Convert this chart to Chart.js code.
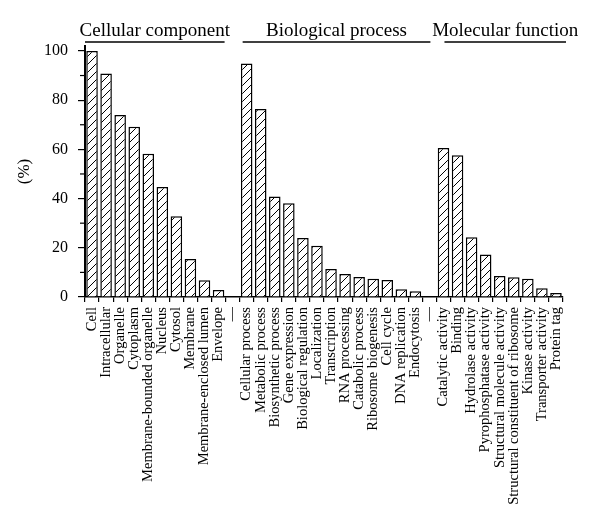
<!DOCTYPE html>
<html>
<head>
<meta charset="utf-8">
<script src="https://cdn.jsdelivr.net/npm/chart.js@4/dist/chart.umd.min.js"></script>
<style>
  html, body { margin: 0; padding: 0; background: #fff; }
</style>
</head>
<body>
<canvas id="barChart" width="600" height="525"></canvas>
<script>
var groupTitles = ['Cellular component', 'Biological process', 'Molecular function'];

var cellularLabels = ['Cell', 'Intracellular', 'Organelle', 'Cytoplasm', 'Membrane-bounded organelle',
  'Nucleus', 'Cytosol', 'Membrane', 'Membrane-enclosed lumen', 'Envelope'];
var cellularValues = [100, 90.8, 74, 69.2, 58.2, 44.7, 32.8, 15.4, 6.8, 2.8];

var biologicalLabels = ['Cellular process', 'Metabolic process', 'Biosynthetic process', 'Gene expression',
  'Biological regulation', 'Localization', 'Transcription', 'RNA processing', 'Catabolic process',
  'Ribosome biogenesis', 'Cell cycle', 'DNA replication', 'Endocytosis'];
var biologicalValues = [94.9, 76.4, 40.8, 38.1, 24, 20.8, 11.4, 9.3, 8.1, 7.4, 6.9, 3.1, 2.3];

var molecularLabels = ['Catalytic activity', 'Binding', 'Hydrolase activity', 'Pyrophosphatase activity',
  'Structural molecule activity', 'Structural constituent of ribosome', 'Kinase activity',
  'Transporter activity', 'Protein tag'];
var molecularValues = [60.5, 57.6, 24.3, 17.3, 8.5, 8, 7.4, 3.6, 1.6];

var yTicks = [0, 20, 40, 60, 80, 100];
var yMinorTicks = [10, 30, 50, 70, 90];

// join the three groups with an empty "—" slot between them
var labels = cellularLabels.concat(['—'], biologicalLabels, ['—'], molecularLabels);
var values = cellularValues.concat([null], biologicalValues, [null], molecularValues);

// where each group sits in the category list
var groups = [
  { title: groupTitles[0], from: 0, to: cellularLabels.length - 1, padL: 0, padR: -1 },
  { title: groupTitles[1], from: cellularLabels.length + 1,
    to: cellularLabels.length + biologicalLabels.length, padL: 3, padR: 8 },
  { title: groupTitles[2], from: cellularLabels.length + biologicalLabels.length + 2,
    to: labels.length - 1, padL: 8, padR: 3 }
];

var FONT = "'Liberation Serif', 'DejaVu Serif', serif";

function makeHatch() {
  var s = 8;
  var c = document.createElement('canvas');
  c.width = s; c.height = s;
  var g = c.getContext('2d');
  g.fillStyle = '#fff';
  g.fillRect(0, 0, s, s);
  g.strokeStyle = '#000';
  g.lineWidth = 1;
  g.beginPath();
  g.moveTo(0, s); g.lineTo(s, 0);
  g.moveTo(-1, 1); g.lineTo(1, -1);
  g.moveTo(s - 1, s + 1); g.lineTo(s + 1, s - 1);
  g.stroke();
  return g.createPattern(c, 'repeat');
}

var headerPlugin = {
  id: 'groupHeaders',
  afterDraw: function (chart) {
    var ctx = chart.ctx;
    var x = chart.scales.x;
    var half = (x.getPixelForValue(1) - x.getPixelForValue(0)) / 2;
    ctx.save();
    groups.forEach(function (gr) {
      var l = x.getPixelForValue(gr.from) - half + gr.padL;
      var r = x.getPixelForValue(gr.to) + half + gr.padR;
      ctx.strokeStyle = '#000';
      ctx.lineWidth = 1.5;
      ctx.beginPath();
      ctx.moveTo(l, 42);
      ctx.lineTo(r, 42);
      ctx.stroke();
      ctx.fillStyle = '#000';
      ctx.font = '19px ' + FONT;
      ctx.textAlign = 'center';
      ctx.textBaseline = 'alphabetic';
      ctx.fillText(gr.title, (l + r) / 2, 36);
    });
    // minor ticks on the y axis
    var y = chart.scales.y;
    var left = chart.chartArea.left;
    ctx.lineWidth = 1.2;
    yMinorTicks.forEach(function (v) {
      var py = y.getPixelForValue(v);
      ctx.beginPath();
      ctx.moveTo(left - 5, py);
      ctx.lineTo(left, py);
      ctx.stroke();
    });
    ctx.restore();
  }
};

var barChartCanvas = document.getElementById('barChart').getContext('2d');

new Chart(barChartCanvas, {
  type: 'bar',
  data: {
    labels: labels,
    datasets: [{
      data: values,
      backgroundColor: makeHatch(),
      borderColor: '#000',
      borderWidth: 1.5,
      barPercentage: 0.82,
      categoryPercentage: 1
    }]
  },
  options: {
    responsive: false,
    animation: false,
    layout: { padding: { top: 46, right: 37, left: 0, bottom: 0 } },
    plugins: {
      legend: { display: false },
      tooltip: { enabled: false }
    },
    scales: {
      x: {
        afterFit: function (scale) { scale.height = 228; },
        border: { color: '#000', width: 1.5 },
        grid: { drawOnChartArea: false, color: '#000', tickLength: 5, lineWidth: 1.2, offset: true },
        ticks: {
          color: '#000',
          autoSkip: false,
          minRotation: 90,
          maxRotation: 90,
          padding: 5,
          font: { family: FONT, size: 14.5 }
        }
      },
      y: {
        min: 0,
        max: 102,
        afterFit: function (scale) { scale.width = 85; },
        afterBuildTicks: function (scale) {
          scale.ticks = yTicks.map(function (v) { return { value: v }; });
        },
        border: { color: '#000', width: 2 },
        grid: { drawOnChartArea: false, color: '#000', tickLength: 7, lineWidth: 1.2 },
        ticks: {
          color: '#000',
          padding: 10,
          font: { family: FONT, size: 16 }
        },
        title: {
          display: true,
          text: '(%)',
          color: '#000',
          padding: { top: 14, bottom: 0 },
          font: { family: FONT, size: 17 }
        }
      }
    }
  },
  plugins: [headerPlugin]
});
</script>
</body>
</html>
